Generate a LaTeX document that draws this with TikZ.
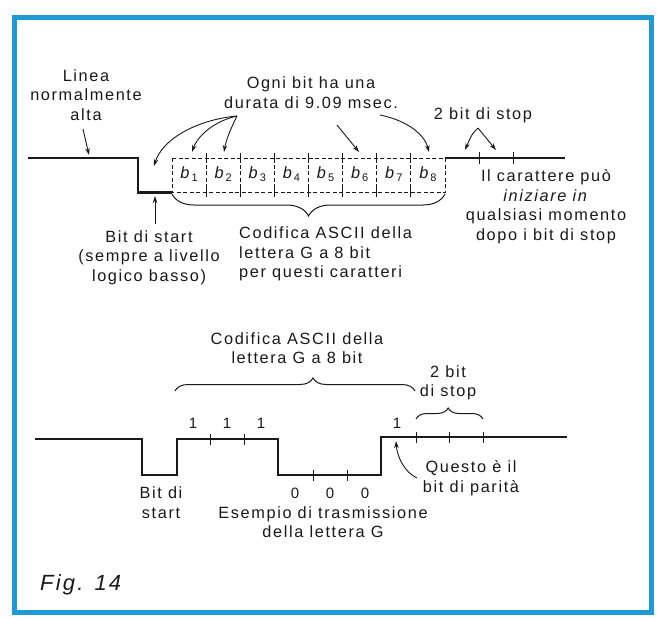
\documentclass[tikz,border=0pt]{standalone}
\usepackage{fontspec}
\setmainfont{Liberation Sans}[LetterSpace=10]
\usetikzlibrary{arrows.meta,decorations.pathreplacing}
\definecolor{frameblue}{RGB}{30,155,215}
\definecolor{ink}{RGB}{25,25,25}
\newcommand\bitlbl[1]{\textit{b}\kern0.5pt\raisebox{-3.5pt}{\fontsize{11}{11}\selectfont #1}}
\begin{document}
\begin{tikzpicture}[x=1pt,y=-1pt,
  sig/.style={line width=2.6pt, draw=ink, line join=miter},
  tickmark/.style={line width=0.8pt, draw=ink},
  dsh/.style={dash pattern=on 4pt off 2.5pt, line width=0.9pt, draw=ink},
  arr/.style={-{Stealth[length=7pt,width=4.5pt]}, line width=0.9pt, draw=ink},
  lbl/.style={font=\fontsize{16.3}{19.5}\selectfont, align=center, text=ink, inner sep=0pt},
  digit/.style={font=\fontsize{15}{15}\selectfont, text=ink, inner sep=0pt},
  brc/.style={decorate, line width=1pt, draw=ink}
]
\useasboundingbox (0,0) rectangle (657,619);
\draw[frameblue, line width=5pt] (14,17) rectangle (651,612);

% ---------- top diagram ----------
\coordinate (t0) at (28,158);
\coordinate (t1) at (138,158);
\coordinate (t2) at (138,192.5);
\coordinate (t3) at (172,192.5);
\coordinate (t4) at (445,158);
\coordinate (t5) at (565,158);
\draw[sig] (t0) -- (t1) -- (t2) -- (t3);
\draw[sig] (t4) -- (t5);
\draw[dsh] (172,158) rectangle (445,192.5);
\foreach \i in {1,...,7} {
  \draw[dsh] ({172+\i*34.125},158) -- ({172+\i*34.125},192.5);
  \draw[tickmark] ({172+\i*34.125},153) -- ({172+\i*34.125},163);
  \draw[tickmark] ({172+\i*34.125},188) -- ({172+\i*34.125},197);
}
\foreach \x in {479,513} \draw[tickmark] (\x,152) -- (\x,164);
\foreach \i in {1,...,8}
  \node[lbl] (b\i) at ({172+(\i-0.5)*34.125},174) {\bitlbl{\i}};

\draw[brc, decoration={brace, amplitude=22pt, aspect=0.5}] (445,194) -- (172,194);

\node[lbl] (linea) at (86,95) {Linea\\normalmente\\alta};
\node[lbl] (ogni) at (311,92.5) {Ogni bit ha una\\durata di 9.09 msec.};
\node[lbl] (stoptop) at (483,115) {2 bit di stop};
\node[lbl] (carat) at (546,206.5) {Il carattere può\\\textit{iniziare in}\\qualsiasi momento\\dopo i bit di stop};
\node[lbl] (bstart) at (149,257.5) {Bit di start\\(sempre a livello\\logico basso)};
\node[lbl, align=left, anchor=west] (codif) at (239,254) {Codifica ASCII della\\lettera G a 8 bit\\per questi caratteri};

\coordinate (lA) at (83,129);
\coordinate (lB) at (89,155);
\draw[arr] (lA) -- (lB);
\coordinate (oA) at (237,116);
\coordinate (oB1) at (154,166);
\coordinate (oB2) at (192,152);
\coordinate (oB3) at (224,152);
\draw[arr] (oA) .. controls (195,120) and (162,140) .. (oB1);
\draw[arr] (oA) .. controls (215,121) and (198,135) .. (oB2);
\draw[arr] (oA) .. controls (231,128) and (226,140) .. (oB3);
\coordinate (oC) at (337,125);
\coordinate (oD) at (359,152);
\draw[arr] (oC) -- (oD);
\coordinate (oE) at (380,115);
\coordinate (oF) at (429,152);
\draw[arr] (oE) .. controls (405,120) and (424,133) .. (oF);
\coordinate (sA) at (478,128);
\coordinate (sB) at (465,150);
\coordinate (sC) at (496,150);
\draw[arr] (sA) .. controls (472,134) .. (sB);
\draw[arr] (sA) .. controls (486,138) .. (sC);
\coordinate (bsA) at (155,224);
\coordinate (bsB) at (155,196);
\draw[arr] (bsA) -- (bsB);

% ---------- bottom diagram ----------
\draw[sig, line width=2.3pt] (35,439) -- (142,439) -- (142,475) -- (177,475) -- (177,439) -- (278,439) -- (278,475) -- (381,475) -- (381,437) -- (567,437);
\foreach \x in {210,244} \draw[tickmark] (\x,434) -- (\x,445);
\foreach \x in {313,347} \draw[tickmark] (\x,470) -- (\x,481);
\foreach \x in {416,449,483} \draw[tickmark] (\x,432) -- (\x,443);

\foreach \x/\n in {193/a,227/b,261/c,397/d} \node[digit] (one\n) at (\x,423) {1};
\foreach \x/\n in {295/a,330/b,365/c} \node[digit] (zero\n) at (\x,493) {0};

\draw[brc, decoration={brace, amplitude=13pt, aspect=0.575}] (175,391) -- (415,391);
\draw[brc, decoration={brace, amplitude=11pt, aspect=0.48}] (416,419) -- (483,419);

\node[lbl] (codif2) at (297,348) {Codifica ASCII della\\lettera G a 8 bit};
\node[lbl] (stopbot) at (448,383) {2 bit\\di stop};
\node[lbl] (parita) at (471,478) {Questo è il\\bit di parità};
\node[lbl] (bds) at (161,502.5) {Bit di\\start};
\node[lbl] (esem) at (323,522) {Esempio di trasmissione\\della lettera G};
\node[font=\fontsize{22}{22}\selectfont\itshape, text=ink, anchor=west, inner sep=0pt] (fig) at (40,585) {Fig. 14};

\coordinate (pA) at (417,478);
\coordinate (pB) at (396,441);
\draw[arr] (pA) .. controls (404,472) and (397,456) .. (pB);
\end{tikzpicture}
\end{document}
